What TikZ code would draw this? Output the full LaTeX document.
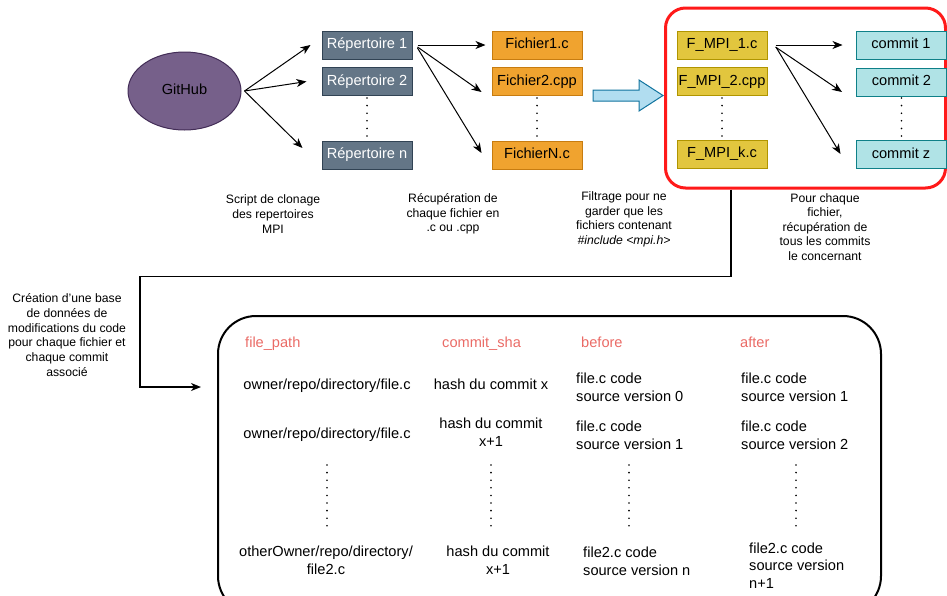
\documentclass[tikz,border=0pt]{standalone}
\usepackage{fontspec}
\setmainfont{Liberation Sans}
\usetikzlibrary{shapes.geometric,arrows.meta,calc}
\definecolor{repfill}{HTML}{647687}
\definecolor{repdraw}{HTML}{314354}
\definecolor{ficfill}{HTML}{F0A32F}
\definecolor{ficdraw}{HTML}{C77C10}
\definecolor{mpifill}{HTML}{E2C63E}
\definecolor{mpidraw}{HTML}{B09500}
\definecolor{comfill}{HTML}{B0E3E6}
\definecolor{comdraw}{HTML}{0E8088}
\definecolor{ghfill}{HTML}{76608A}
\definecolor{ghdraw}{HTML}{432D57}
\definecolor{bafill}{HTML}{B1DDF0}
\definecolor{badraw}{HTML}{10739E}
\definecolor{headred}{HTML}{EA6B66}
\definecolor{boxred}{HTML}{FF1A1A}
\begin{document}
\begin{tikzpicture}[x=1pt,y=-1pt,
  nbox/.style={rectangle, minimum width=90pt, minimum height=28pt, inner sep=0pt, line width=1pt, text height=10.5pt, text depth=3.1pt, font=\fontsize{14.6}{17.5}\selectfont},
  rep/.style={nbox, fill=repfill, draw=repdraw, text=white},
  fic/.style={nbox, fill=ficfill, draw=ficdraw},
  mpi/.style={nbox, fill=mpifill, draw=mpidraw},
  com/.style={nbox, fill=comfill, draw=comdraw},
  arr/.style={-{Stealth[length=10pt,width=8pt,inset=3pt]}, line width=1pt},
  vdots/.style={line width=1.8pt, line cap=round, dash pattern=on 0pt off 7.6pt},
  captxt/.style={align=center, font=\fontsize{12.2}{14.6}\selectfont, inner sep=0pt},
  cell/.style={inner sep=0pt, font=\fontsize{14.6}{17.8}\selectfont},
  cellone/.style={cell, text height=10.5pt, text depth=3.1pt},
  hdr/.style={cellone, text=headred, anchor=west}
]
\useasboundingbox (0,0) rectangle (947,595);

% GitHub
\node[ellipse, fill=ghfill, draw=ghdraw, line width=1pt, minimum width=113pt, minimum height=78pt, inner sep=0pt, text height=10.5pt, text depth=3.1pt, font=\fontsize{14.6}{17.5}\selectfont] (gh) at (184.5,91) {GitHub};

% repositories
\node[rep] (rep1) at (367,45) {Répertoire 1};
\node[rep] (rep2) at (367,81.5) {Répertoire 2};
\node[rep] (repn) at (367,155) {Répertoire n};
\draw[vdots] (rep2 |- 0,98) -- (rep2 |- 0,136);

% files
\node[fic] (fic1) at (537,45) {Fichier1.c};
\node[fic] (fic2) at (537,81.5) {Fichier2.cpp};
\node[fic] (ficN) at (537,155) {FichierN.c};
\draw[vdots] (fic2 |- 0,98) -- (fic2 |- 0,136);

% red group
\node[rectangle, rounded corners=20pt, draw=boxred, line width=3pt, minimum width=280pt, minimum height=180pt, inner sep=0pt] (grp) at (805.5,98) {};

\node[mpi] (mpi1) at (722,45) {F\_MPI\_1.c};
\node[mpi] (mpi2) at (722,81.5) {F\_MPI\_2.cpp};
\node[mpi] (mpik) at (722,154) {F\_MPI\_k.c};
\draw[vdots] (mpi2 |- 0,98) -- (mpi2 |- 0,136);

\node[com] (com1) at (901,45) {commit 1};
\node[com] (com2) at (901.5,82) {commit 2};
\node[com] (comz) at (901,154.5) {commit z};
\draw[vdots] (com2 |- 0,98) -- (com2 |- 0,136);

% arrows
\draw[arr] ([xshift=3pt]gh.east) -- ([xshift=-11pt]rep1.west);
\draw[arr] ([xshift=3pt]gh.east) -- ([xshift=-15pt]rep2.west);
\draw[arr] ([xshift=3pt]gh.east) -- ([shift={(-19pt,7pt)}]repn.west);

\draw[arr] ([xshift=5pt]rep1.east) -- ([xshift=-6pt]fic1.west);
\draw[arr] ([shift={(5pt,-2pt)}]rep1.east) -- ([shift={(-10pt,-10.5pt)}]fic2.west);
\draw[arr] ([shift={(5pt,-3pt)}]rep1.east) -- ([shift={(-10pt,2pt)}]ficN.west);

\draw[arr] ([xshift=8pt]mpi1.east) -- ([xshift=-13pt]com1.west);
\draw[arr] ([shift={(8pt,-2pt)}]mpi1.east) -- ([shift={(-14pt,-10pt)}]com2.west);
\draw[arr] ([shift={(9pt,-3pt)}]mpi1.east) -- ([shift={(-15pt,0.5pt)}]comz.west);

% big blue arrow
\draw[fill=bafill, draw=badraw, line width=1pt] (593,90) -- (639,90) -- (639,80) -- (663,95.5) -- (639,111) -- (639,101) -- (593,101) -- cycle;

% captions
\node[captxt] (c1) at (273,214) {Script de clonage\\des repertoires\\MPI};
\node[captxt] (c2) at (453,214) {Récupération de\\chaque fichier en\\.c ou .cpp};
\node[captxt] (c3) at (624,219.5) {Filtrage pour ne\\garder que les\\fichiers contenant\\\textit{\#include <mpi.h>}};
\node[captxt] (c4) at (825,227) {Pour chaque\\fichier,\\récupération de\\tous les commits\\le concernant};
\node[captxt, font=\fontsize{12.2}{14.8}\selectfont] (c5) at (67,335) {Création d'une base\\de données de\\modifications du code\\pour chaque fichier et\\chaque commit\\associé};

% database box
\node[rectangle, rounded corners=38pt, draw=black, line width=2pt, minimum width=663pt, minimum height=298pt, inner sep=0pt] (db) at (549.5,465) {};

% connector
\coordinate (cend) at (201,387);
\draw[arr, line width=1.5pt] ([xshift=67pt]grp.south west) -- ++(0,87) -| (140,387) -- (cend);

% table headers
\node[hdr] (h1) at (245,343.5) {file\_path};
\node[hdr] (h2) at (442,343.5) {commit\_sha};
\node[hdr] (h3) at (581,343.5) {before};
\node[hdr] (h4) at (740,343.5) {after};

% row 1
\node[cellone] (p1) at (327,385.5) {owner/repo/directory/file.c};
\node[cellone] (s1) at (491,385.5) {hash du commit x};
\node[cell, anchor=west, align=left] (b1) at (576,387.5) {file.c code\\source version 0};
\node[cell, anchor=west, align=left] (a1) at (741,387.5) {file.c code\\source version 1};

% row 2
\node[cellone] (p2) at (327,434.5) {owner/repo/directory/file.c};
\node[cell, align=center] (s2) at (491,432) {hash du commit\\x+1};
\node[cell, anchor=west, align=left] (b2) at (576,435) {file.c code\\source version 1};
\node[cell, anchor=west, align=left] (a2) at (741,435) {file.c code\\source version 2};

% dots
\draw[vdots] (p2 |- 0,465) -- (p2 |- 0,527);
\draw[vdots] (s2 |- 0,465) -- (s2 |- 0,527);
\draw[vdots] (629,465) -- (629,527);
\draw[vdots] (796,465) -- (796,527);

% row 3
\node[cell, align=center] (p3) at (326,560.5) {otherOwner/repo/directory/\\file2.c};
\node[cell, align=center] (s3) at (498,560.5) {hash du commit\\x+1};
\node[cell, anchor=west, align=left] (b3) at (583,561) {file2.c code\\source version n};
\node[cell, anchor=west, align=left] (a3) at (749,565.5) {file2.c code\\source version\\n+1};
\end{tikzpicture}
\end{document}
